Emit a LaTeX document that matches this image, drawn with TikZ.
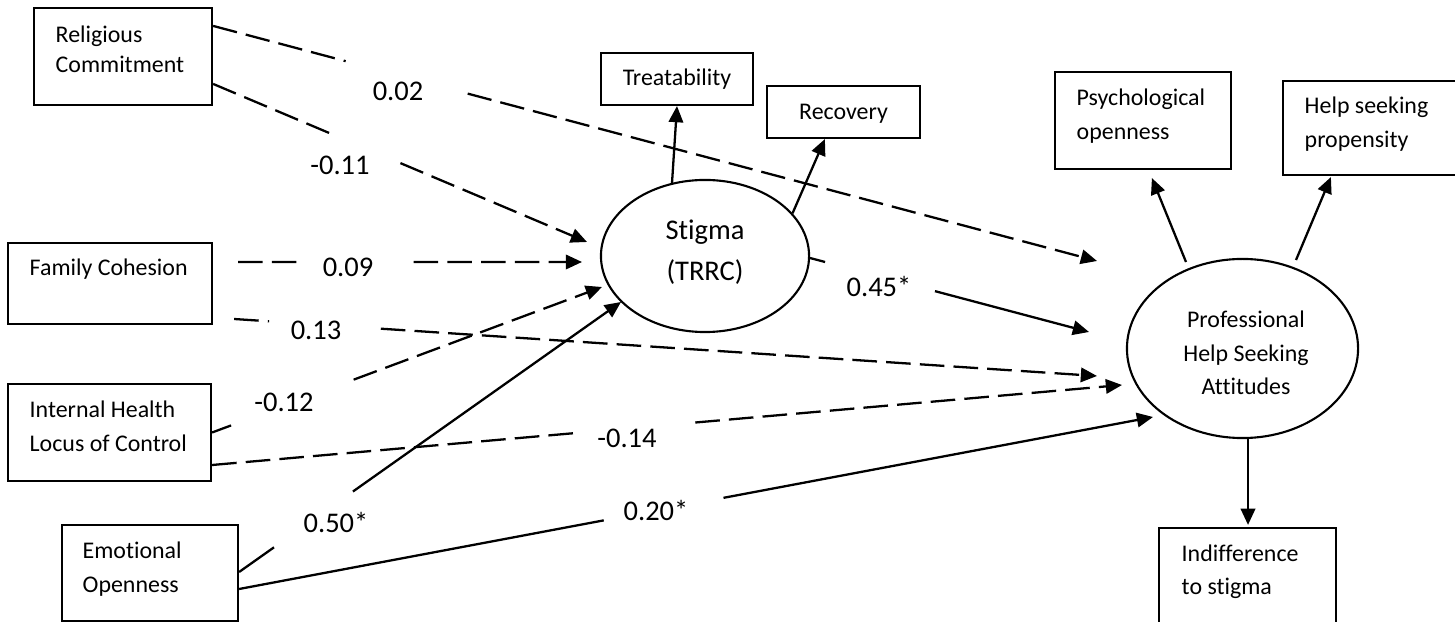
\documentclass[tikz,border=0pt]{standalone}
\usepackage{fontspec}
\setmainfont{Carlito}[Ligatures=NoCommon]
\usetikzlibrary{shapes.geometric,arrows.meta,calc}
\begin{document}
\begin{tikzpicture}[x=0.01cm,y=-0.01cm,
  box/.style={draw,rectangle,line width=0.6pt,inner sep=0pt},
  latent/.style={draw,ellipse,line width=0.6pt,inner sep=0pt},
  sm/.style={inner sep=0pt,font=\fontsize{6.8}{9.5}\selectfont},
  big/.style={inner sep=0pt,font=\fontsize{8.1}{11.4}\selectfont},
  link/.style={line width=0.65pt,-{Triangle[length=4.6pt,width=4.1pt]}},
  nsig/.style={link,dash pattern=on 7pt off 2.6pt},
]
\useasboundingbox (0,0) rectangle (1455,622);
\clip (0,0) rectangle (1455,622);

% observed predictors
\node[box,minimum width=1.78cm,minimum height=0.97cm] (rc) at (123,56.5) {};
\node[box,minimum width=2.04cm,minimum height=0.81cm] (fc) at (110,283.5) {};
\node[box,minimum width=2.03cm,minimum height=0.97cm] (ih) at (109.5,432.5) {};
\node[box,minimum width=1.76cm,minimum height=0.96cm] (eo) at (150,573) {};

\node[sm,anchor=base west] (trc) at (55,43)
  {\fontsize{6.8}{8.25}\selectfont\begin{tabular}[t]{@{}l@{}}Religious\\Commitment\end{tabular}};
\node[sm,anchor=base west] (tfc) at (29,276) {Family Cohesion};
\node[sm,anchor=base west] (tih) at (29,418)
  {\begin{tabular}[t]{@{}l@{}}Internal Health\\Locus of Control\end{tabular}};
\node[sm,anchor=base west] (teo) at (82,559)
  {\begin{tabular}[t]{@{}l@{}}Emotional\\Openness\end{tabular}};

% latent variables
\node[latent,minimum width=2.08cm,minimum height=1.52cm] (stigma) at (705,256) {};
\node[big,anchor=base] (tst) at (705,240)
  {\begin{tabular}[t]{@{}c@{}}Stigma\\(TRRC)\end{tabular}};
\node[latent,minimum width=2.31cm,minimum height=1.79cm] (prof) at (1242.5,348.5) {};
\node[sm,anchor=base] (tpr) at (1246,328)
  {\begin{tabular}[t]{@{}c@{}}Professional\\Help Seeking\\Attitudes\end{tabular}};

% indicators
\node[box,minimum width=1.52cm,minimum height=0.52cm] (treat) at (677,79) {};
\node[sm,anchor=base] (ttr) at (677,86) {Treatability};
\node[box,minimum width=1.53cm,minimum height=0.52cm] (recov) at (843.5,112) {};
\node[sm,anchor=base] (tre) at (843.5,120) {Recovery};
\node[box,minimum width=1.76cm,minimum height=0.97cm] (psych) at (1143,120.5) {};
\node[sm,anchor=base west] (tps) at (1076,106)
  {\begin{tabular}[t]{@{}l@{}}Psychological\\openness\end{tabular}};
\node[box,minimum width=1.92cm,minimum height=0.94cm] (help) at (1379,128) {};
\node[sm,anchor=base west] (thp) at (1304,114)
  {\begin{tabular}[t]{@{}l@{}}Help seeking\\propensity\end{tabular}};
\node[box,minimum width=1.77cm,minimum height=1.22cm] (indiff) at (1247.5,589) {};
\node[sm,anchor=base west] (tin) at (1181,561)
  {\begin{tabular}[t]{@{}l@{}}Indifference\\to stigma\end{tabular}};

% path end points
\coordinate (s1) at ($(rc.north east)+(0,77)$);
\coordinate (e1) at ($(stigma.center)+(-118,-14)$);
\coordinate (s2) at ($(rc.north east)+(0,19)$);
\coordinate (e2) at ($(prof.center)+(-145.5,-87.5)$);
\coordinate (s3) at ($(fc.east)+(25,-21.5)$);
\coordinate (e3) at ($(stigma.center)+(-123,6)$);
\coordinate (s4) at ($(fc.east)+(21,35.5)$);
\coordinate (e4) at ($(prof.center)+(-145.5,27.5)$);
\coordinate (s5) at (ih.east);
\coordinate (e5) at ($(stigma.center)+(-103,31)$);
\coordinate (s6) at ($(ih.east)+(0,32.5)$);
\coordinate (e6) at ($(prof.center)+(-120.5,36.5)$);
\coordinate (s7) at ($(eo.east)+(0,-1)$);
\coordinate (e7) at ($(stigma.center)+(-84,46)$);
\coordinate (s8) at ($(eo.east)+(0,16)$);
\coordinate (e8) at ($(prof.center)+(-89.5,68.5)$);
\coordinate (s9) at ($(stigma.center)+(105,2)$);
\coordinate (e9) at ($(prof.center)+(-153.5,-16.5)$);

% structural paths, broken around their coefficients
\draw[nsig] (s1) -- ($(s1)!0.323!(e1)$) ($(s1)!0.501!(e1)$) -- (e1);
\draw[nsig] (s2) -- ($(s2)!0.150!(e2)$) ($(s2)!0.288!(e2)$) -- (e2);
\draw[nsig] (s3) -- ($(s3)!0.183!(e3)$) ($(s3)!0.510!(e3)$) -- (e3);
\draw[nsig] (s4) -- ($(s4)!0.0405!(e4)$) ($(s4)!0.170!(e4)$) -- (e4);
\draw[nsig] (s5) -- ($(s5)!0.0486!(e5)$) ($(s5)!0.363!(e5)$) -- (e5);
\draw[nsig] (s6) -- ($(s6)!0.3996!(e6)$) ($(s6)!0.531!(e6)$) -- (e6);
\draw[link] (s7) -- ($(s7)!0.0914!(e7)$) ($(s7)!0.298!(e7)$) -- (e7);
\draw[link] (s8) -- ($(s8)!0.399!(e8)$) ($(s8)!0.530!(e8)$) -- (e8);
\draw[link] (s9) -- ($(s9)!0.054!(e9)$) ($(s9)!0.448!(e9)$) -- (e9);

% coefficients
\node[big,anchor=base] (c1) at (340,175) {-0.11};
\node[big,anchor=base] (c2) at (398,101) {0.02};
\node[big,anchor=base] (c3) at (348,277) {0.09};
\node[big,anchor=base] (c4) at (316,340) {0.13};
\node[big,anchor=base] (c5) at (284,412) {-0.12};
\node[big,anchor=base] (c6) at (627,448) {-0.14};
\node[big,anchor=base] (c7) at (336,533) {0.50*};
\node[big,anchor=base] (c8) at (656,521) {0.20*};
\node[big,anchor=base] (c9) at (879,297) {0.45*};

% measurement paths
\draw[link] ($(stigma.center)+(-33,-73)$) -- (treat.south);
\draw[link] (stigma.26.8) -- ($(recov.south west)+(59,0)$);
\draw[link] ($(prof.center)+(-56.5,-86.5)$) -- ($(psych.south west)+(98,8)$);
\draw[link] ($(prof.center)+(53.5,-88.5)$) -- ($(help.south west)+(49,1)$);
\draw[link] ($(prof.south)+(5.5,0)$) -- ($(indiff.north)+(0.5,-2)$);
\end{tikzpicture}
\end{document}
